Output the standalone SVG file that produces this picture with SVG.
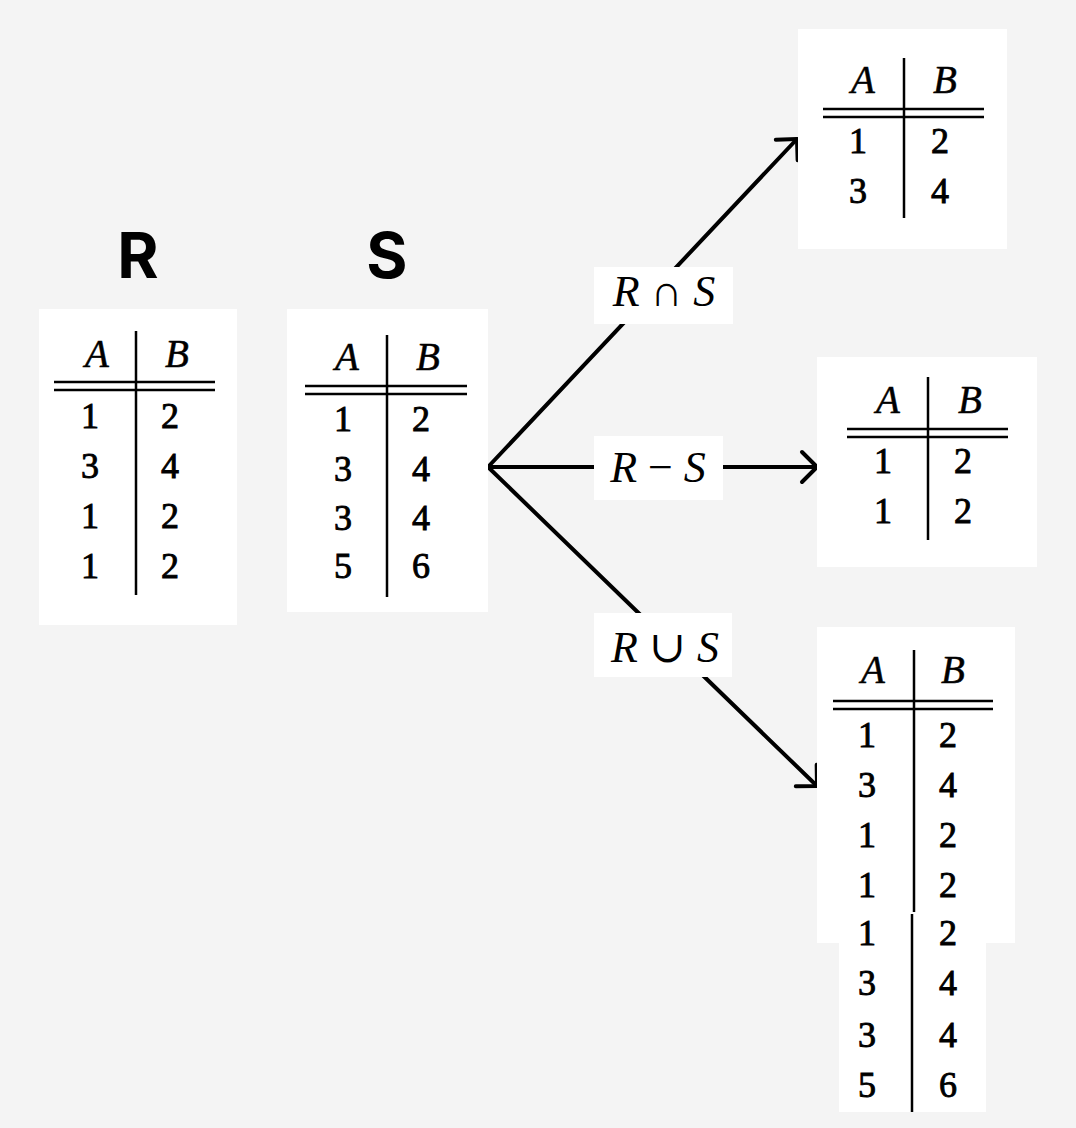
<svg xmlns="http://www.w3.org/2000/svg" width="1076" height="1128" viewBox="0 0 1076 1128">
<style>
.card{fill:#ffffff}
.rule{stroke:#000;stroke-width:2.5;fill:none}
.hdr{font-family:"Liberation Serif","DejaVu Serif",serif;font-style:italic;font-size:39px;fill:#000;stroke:#000;stroke-width:0.5;text-anchor:middle}
.num{font-family:"Liberation Serif","DejaVu Serif",serif;font-size:36px;fill:#000;stroke:#000;stroke-width:0.9;text-anchor:middle}
.title{font-family:Inter,"Liberation Sans",sans-serif;font-weight:700;font-size:63px;fill:#000;text-anchor:middle}
.conn{stroke:#000;stroke-width:4;fill:none;stroke-linecap:round}
.lbl{font-family:"Liberation Serif","DejaVu Serif",serif;font-size:44px;fill:#000;text-anchor:middle}
.it{font-style:italic}
</style>
<defs>
<marker id="arrow" markerUnits="userSpaceOnUse" markerWidth="40" markerHeight="40" viewBox="-20 -20 40 40" refX="0" refY="0" orient="auto">
<path d="M-15,-15 L0,0 L-15,15" stroke="#000" stroke-width="4" fill="none" stroke-linecap="round" stroke-linejoin="round"/>
</marker>
</defs>
<rect width="1076" height="1128" fill="#f4f4f4"/>

<g id="connectors">
<line class="conn" x1="488" y1="467" x2="797" y2="139" marker-end="url(#arrow)"/>
<line class="conn" x1="488" y1="467" x2="817" y2="467" marker-end="url(#arrow)"/>
<line class="conn" x1="488" y1="467" x2="817" y2="786" marker-end="url(#arrow)"/>
<g id="label-intersect">
<rect class="card" x="594" y="267" width="139" height="57"/>
<text class="lbl" x="664" y="306"><tspan class="it">R</tspan> ∩ <tspan class="it">S</tspan></text>
</g>
<g id="label-minus">
<rect class="card" x="594" y="436" width="129" height="64"/>
<text class="lbl" x="658" y="482"><tspan class="it">R</tspan> − <tspan class="it">S</tspan></text>
</g>
<g id="label-union">
<rect class="card" x="594" y="613" width="138" height="64"/>
<text class="lbl" x="665" y="662"><tspan class="it">R</tspan> ∪ <tspan class="it">S</tspan></text>
</g>
</g>

<g id="title-R"><text class="title" x="138" y="278">R</text></g>
<g id="title-S"><text class="title" x="387" y="278">S</text></g>

<g id="table-R">
<rect class="card" x="39" y="309" width="198" height="316"/>
<line class="rule" x1="136" y1="331" x2="136" y2="595"/>
<line class="rule" x1="54" y1="382" x2="215" y2="382"/>
<line class="rule" x1="54" y1="390" x2="215" y2="390"/>
<text class="hdr" x="97" y="367">A</text><text class="hdr" x="177" y="367">B</text>
<text class="num" x="90" y="428">1</text><text class="num" x="170" y="428">2</text>
<text class="num" x="90" y="478">3</text><text class="num" x="170" y="478">4</text>
<text class="num" x="90" y="528">1</text><text class="num" x="170" y="528">2</text>
<text class="num" x="90" y="578">1</text><text class="num" x="170" y="578">2</text>
</g>

<g id="table-S">
<rect class="card" x="287" y="309" width="201" height="303"/>
<line class="rule" x1="387" y1="335" x2="387" y2="597"/>
<line class="rule" x1="305" y1="386" x2="467" y2="386"/>
<line class="rule" x1="305" y1="394" x2="467" y2="394"/>
<text class="hdr" x="347" y="370">A</text><text class="hdr" x="428" y="370">B</text>
<text class="num" x="343" y="431">1</text><text class="num" x="421" y="431">2</text>
<text class="num" x="343" y="481">3</text><text class="num" x="421" y="481">4</text>
<text class="num" x="343" y="530">3</text><text class="num" x="421" y="530">4</text>
<text class="num" x="343" y="578">5</text><text class="num" x="421" y="578">6</text>
</g>

<g id="table-intersect">
<rect class="card" x="798" y="29" width="209" height="220"/>
<line class="rule" x1="904" y1="58" x2="904" y2="218"/>
<line class="rule" x1="823" y1="109" x2="984" y2="109"/>
<line class="rule" x1="823" y1="117" x2="984" y2="117"/>
<text class="hdr" x="863" y="93">A</text><text class="hdr" x="945" y="93">B</text>
<text class="num" x="858" y="153">1</text><text class="num" x="940" y="153">2</text>
<text class="num" x="858" y="203">3</text><text class="num" x="940" y="203">4</text>
</g>

<g id="table-minus">
<rect class="card" x="817" y="357" width="220" height="210"/>
<line class="rule" x1="928" y1="377" x2="928" y2="540"/>
<line class="rule" x1="847" y1="429" x2="1008" y2="429"/>
<line class="rule" x1="847" y1="437" x2="1008" y2="437"/>
<text class="hdr" x="888" y="413">A</text><text class="hdr" x="970" y="413">B</text>
<text class="num" x="883" y="473">1</text><text class="num" x="963" y="473">2</text>
<text class="num" x="883" y="523">1</text><text class="num" x="963" y="523">2</text>
</g>

<g id="table-union">
<rect class="card" x="817" y="627" width="198" height="316"/>
<rect class="card" x="839" y="942" width="147" height="170"/>
<line class="rule" x1="914" y1="650" x2="914" y2="912"/>
<line class="rule" x1="912" y1="914" x2="912" y2="1112"/>
<line class="rule" x1="833" y1="701" x2="993" y2="701"/>
<line class="rule" x1="833" y1="709" x2="993" y2="709"/>
<text class="hdr" x="873" y="683">A</text><text class="hdr" x="953" y="683">B</text>
<text class="num" x="867" y="747">1</text><text class="num" x="948" y="747">2</text>
<text class="num" x="867" y="797">3</text><text class="num" x="948" y="797">4</text>
<text class="num" x="867" y="847">1</text><text class="num" x="948" y="847">2</text>
<text class="num" x="867" y="897">1</text><text class="num" x="948" y="897">2</text>
<text class="num" x="867" y="945">1</text><text class="num" x="948" y="945">2</text>
<text class="num" x="867" y="995">3</text><text class="num" x="948" y="995">4</text>
<text class="num" x="867" y="1047">3</text><text class="num" x="948" y="1047">4</text>
<text class="num" x="867" y="1097">5</text><text class="num" x="948" y="1097">6</text>
</g>
</svg>
